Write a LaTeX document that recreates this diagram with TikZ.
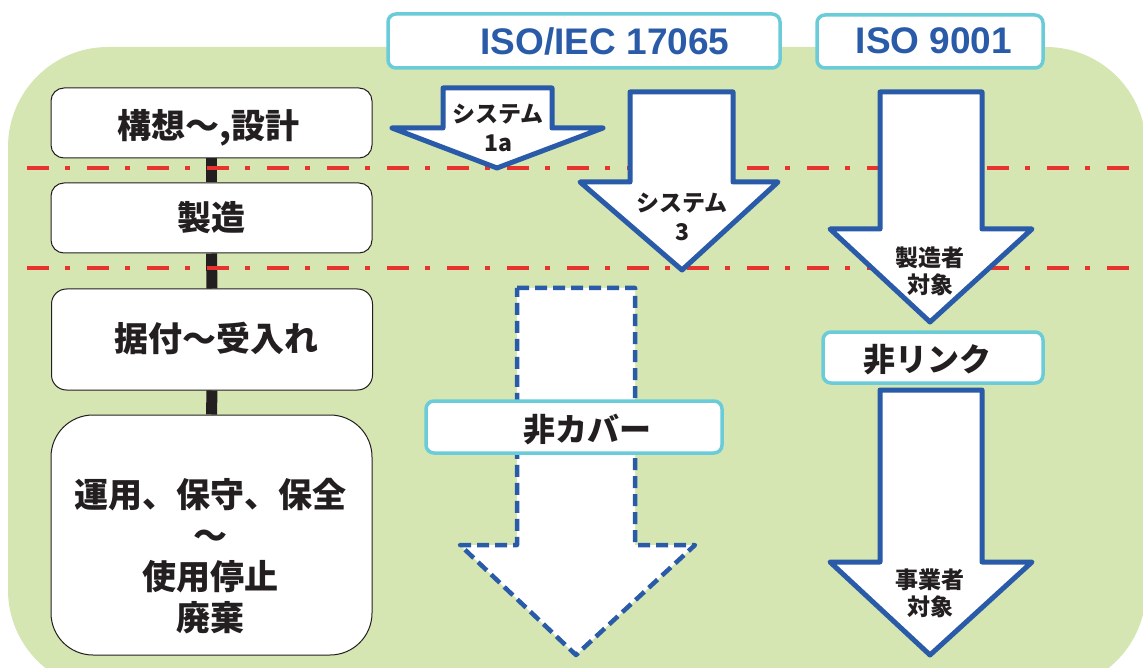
\documentclass[tikz,border=0pt]{standalone}
\usepackage{fontspec}
\setmainfont{Liberation Sans}
\newfontfamily\jp{Noto Sans CJK JP}
\definecolor{bg}{HTML}{D5E6B2}
\definecolor{abl}{HTML}{2A5BA8}
\definecolor{cy}{HTML}{6ACBD9}
\definecolor{rd}{HTML}{E8322E}
\definecolor{tx}{HTML}{231F20}
\tikzset{
  stage/.style={draw=tx, line width=1pt, fill=white, rounded corners=13pt, minimum width=321pt, minimum height=70pt, inner sep=0pt},
  bigtext/.style={font={\jp\bfseries\fontsize{34}{41}\selectfont}, text=tx, align=center, inner sep=0pt},
  arrowtext/.style={font={\jp\bfseries\fontsize{23}{29}\selectfont}, text=tx, align=center, inner sep=0pt},
  cybox/.style={draw=cy, line width=3.5pt, fill=white, rounded corners=8pt, inner sep=0pt},
  isotext/.style={font={\bfseries\fontsize{37}{40}\selectfont}, text=abl, inner sep=0pt},
  tagtext/.style={font={\jp\bfseries\fontsize{32}{36}\selectfont}, text=tx, inner sep=0pt},
  bigarrow/.style={draw=abl, line width=5pt, fill=white, line join=round},
  dasharrow/.style={draw=abl, line width=4.5pt, fill=white, line join=round, dash pattern=on 12pt off 6pt},
  redline/.style={draw=rd, line width=4.5pt, dash pattern=on 22pt off 16pt on 5pt off 17pt},
  spine/.style={draw=tx, line width=11pt}
}
\begin{document}
\begin{tikzpicture}[x=1pt,y=-1pt]
\useasboundingbox (0,0) rectangle (1143,668);
% background
\fill[bg, rounded corners=100pt] (8,47) rectangle (1146,690);
% stage boxes
\node[stage] (b1) at (211.5,123) {};
\node[stage] (b2) at (211.5,218) {};
\node[stage, minimum height=101pt, rounded corners=15pt] (b3) at (212,339.5) {};
\node[stage, minimum height=240pt, rounded corners=42pt] (b4) at (211.5,535) {};
\draw[spine] (b1.south) -- (b2.north);
\draw[spine] (b2.south) -- (b3.north);
\draw[spine] (b3.south) -- (b4.north);
\node[bigtext] (t1) at (208.5,128) {構想～,設計};
\node[bigtext] (t2) at (211.5,218) {製造};
\node[bigtext] (t3) at (216,339) {据付～受入れ};
\node[bigtext] (t4) at (210,556) {運用、保守、保全\\～\\使用停止\\廃棄};
% red dash-dot lines
\draw[redline] (27,168) -- (1143,168);
\draw[redline] (27,268) -- (1143,268);
% header boxes
\node[cybox, minimum width=392pt, minimum height=54pt] (iso1) at (584,41) {};
\node[isotext] (iso1t) at (605,41) {ISO/IEC 17065};
\node[cybox, minimum width=226pt, minimum height=53pt] (iso2) at (930,41.5) {};
\node[isotext] (iso2t) at (934,41) {ISO 9001};
% arrows
\draw[bigarrow] (443,88) -- (552,88) -- (552,128) -- (603,128) -- (497,168) -- (392,128) -- (443,128) -- cycle;
\node[arrowtext] (a1) at (498,128) {システム\\1a};
\draw[bigarrow] (630,92) -- (733,92) -- (733,182) -- (778,182) -- (682,270) -- (580,182) -- (630,182) -- cycle;
\node[arrowtext] (a3) at (682,217) {システム\\3};
\draw[bigarrow] (880,92) -- (982,92) -- (982,229) -- (1032,229) -- (930,322) -- (830,229) -- (880,229) -- cycle;
\node[arrowtext, font={\jp\bfseries\fontsize{23}{27}\selectfont}] (m1) at (930,271.5) {製造者\\対象};
\draw[bigarrow] (880,390) -- (982,390) -- (982,562) -- (1032,562) -- (930,655) -- (830,562) -- (880,562) -- cycle;
\node[arrowtext, font={\jp\bfseries\fontsize{23}{27}\selectfont}] (m2) at (930,593.5) {事業者\\対象};
\draw[dasharrow] (517,288) -- (635,288) -- (635,545) -- (695,545) -- (576,655) -- (460,545) -- (517,545) -- cycle;
% tag boxes
\node[cybox, minimum width=296pt, minimum height=52pt] (cov) at (574,427) {};
\node[tagtext] (covt) at (587,430) {非カバー};
\node[cybox, minimum width=220pt, minimum height=51pt] (lnk) at (933,357.5) {};
\node[tagtext] (lnkt) at (927.5,360) {非リンク};
\end{tikzpicture}
\end{document}
